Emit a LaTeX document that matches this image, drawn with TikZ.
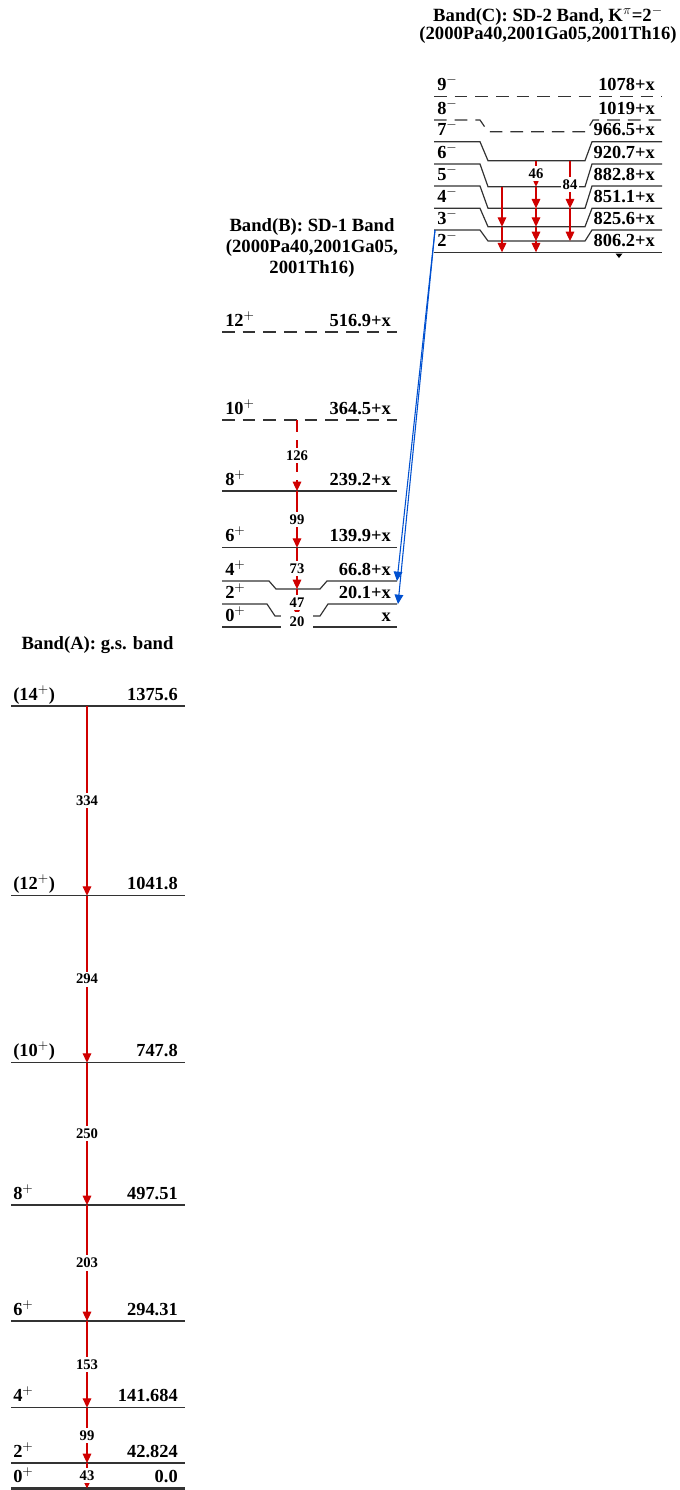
\documentclass[tikz,border=0pt]{standalone}
\usepackage{fontspec}
\setmainfont{Liberation Serif}
\usetikzlibrary{arrows.meta, positioning, calc}
\definecolor{gred}{HTML}{D00000}
\definecolor{gblue}{HTML}{0050D0}
\definecolor{lvlgray}{HTML}{333333}

\begin{document}
\begin{tikzpicture}[x=0.75pt, y=-0.75pt,
    lvl/.style={draw=lvlgray, line width=0.9pt},
    tent/.style={lvl, dash pattern=on 9.5pt off 6pt},
    spin/.style={anchor=base west, inner sep=0pt, font=\fontsize{13.8}{15}\selectfont\bfseries},
    en/.style={anchor=base east, inner sep=0pt, font=\fontsize{13.8}{15}\selectfont\bfseries},
    ttl/.style={align=center, inner sep=0pt, font=\fontsize{14}{14}\selectfont\bfseries},
    gam/.style={draw=gred, line width=0.8pt, -{Triangle[length=7pt, width=6.5pt]}},
    gbl/.style={draw=gblue, line width=0.8pt, -{Triangle[length=7pt, width=6.5pt]}},
    glab/.style={fill=white, inner xsep=1.5pt, inner ysep=2pt, font=\fontsize{11}{12}\selectfont\bfseries}]

\useasboundingbox (0,0) rectangle (679,1490);

% titles
\node[ttl] (tA) at (97.5,645) {Band(A): g.s. band};
\node[ttl, font=\fontsize{14}{16}\selectfont\bfseries] (tB) at (312,248) {Band(B): SD-1 Band\\(2000Pa40,2001Ga05,\\2001Th16)};
\node[ttl] (tC) at (548,25) {Band(C): SD-2 Band, K$^{\pi}$=2$^{-}$\\(2000Pa40,2001Ga05,2001Th16)};

% band A
\foreach \y/\s/\e/\n in {706/{(14$^{+}$)}/1375.6/A14, 895.7/{(12$^{+}$)}/1041.8/A12,
    1062.7/{(10$^{+}$)}/747.8/A10, 1205/{8$^{+}$}/497.51/A8, 1321/{6$^{+}$}/294.31/A6,
    1407.7/{4$^{+}$}/141.684/A4, 1463/{2$^{+}$}/42.824/A2}{
  \draw[lvl] (11,\y) -- (185,\y);
  \node[spin] (\n s) at (13,\y-6) {\s};
  \node[en] (\n e) at (178,\y-6) {\e};
  \coordinate (\n) at (87,\y);
}
\draw[lvl, line width=1.8pt] (11,1488.5) -- (185,1488.5);
\node[spin] (A0s) at (13,1482.5) {0$^{+}$};
\node[en] (A0e) at (178,1482.5) {0.0};
\coordinate (A0) at (87,1488.5);

\foreach \a/\b/\g in {A14/A12/334, A12/A10/294, A10/A8/250, A8/A6/203, A6/A4/153, A4/A2/99, A2/A0/43}
  \draw[gam] (\a) -- (\b) node[glab, midway] (gA\g) {\g};

% band B
\draw[tent] (222,332) -- (397,332);
\node[spin] (B12s) at (225,326) {12$^{+}$};
\node[en] (B12e) at (391,326) {516.9+x};
\draw[tent] (222,420) -- (397,420);
\node[spin] (B10s) at (225,414) {10$^{+}$};
\node[en] (B10e) at (391,414) {364.5+x};
\draw[lvl] (222,491) -- (397,491);
\node[spin] (B8s) at (225,485) {8$^{+}$};
\node[en] (B8e) at (391,485) {239.2+x};
\draw[lvl] (222,547.7) -- (397,547.7);
\node[spin] (B6s) at (225,541.7) {6$^{+}$};
\node[en] (B6e) at (391,541.7) {139.9+x};
\draw[lvl] (222,581) -- (269,581) -- (276,589) -- (320,589) -- (327,581) -- (397,581);
\node[spin] (B4s) at (225,575) {4$^{+}$};
\node[en] (B4e) at (391,575) {66.8+x};
\draw[lvl] (222,604) -- (267,604) -- (275,616) -- (320,616) -- (328,604) -- (397,604);
\node[spin] (B2s) at (225,598) {2$^{+}$};
\node[en] (B2e) at (391,598) {20.1+x};
\draw[lvl] (222,627) -- (397,627);
\node[spin] (B0s) at (225,621) {0$^{+}$};
\node[en] (B0e) at (391,621) {x};

\coordinate (B10) at (297,420);
\coordinate (B8) at (297,491);
\coordinate (B6) at (297,547.7);
\coordinate (B4) at (297,589);
\coordinate (B2) at (297,616);
\coordinate (B0) at (297,627);
\draw[gam, dash pattern=on 9pt off 6pt] (B10) -- (B8) node[glab, midway] (gB126) {126};
\draw[gam] (B8) -- (B6) node[glab, midway] (gB99) {99};
\draw[gam] (B6) -- (B4) node[glab, midway] (gB73) {73};
\draw[gam] (B4) -- (B2) node[glab, midway] (gB47) {47};
\draw[gam] (B2) -- (B0) node[glab, midway, minimum width=24pt, minimum height=14pt] (gB20) {20};

% band C
\draw[tent] (434,96.7) -- (662,96.7);
\draw[tent] (434,120) -- (480,120) -- (488,131.7) -- (586,131.7) -- (593,120) -- (662,120);
\foreach \o/\i in {141.7/160.7, 164/186.7, 186/208.3, 208.3/226.7, 230/241}
  \draw[lvl] (434,\o) -- (480,\o) -- (488,\i) -- (585,\i) -- (592,\o) -- (662,\o);
\draw[lvl] (434,252.3) -- (662,252.3);
\foreach \y/\s/\e/\n in {96.7/9/1078/C9, 120/8/1019/C8, 141.7/7/966.5/C7, 164/6/920.7/C6,
    186/5/882.8/C5, 208.3/4/851.1/C4, 230/3/825.6/C3, 252.3/2/806.2/C2}{
  \node[spin] (\n s) at (437,\y-6) {\s$^{-}$};
  \node[en] (\n e) at (655,\y-6) {\e+x};
}
\fill[black] (615.5,253.5) -- (622.5,253.5) -- (619,258) -- cycle;

\foreach \x/\c in {502/a, 536/b, 570/c}
  \foreach \y/\n in {160.7/7, 186.7/6, 208.3/5, 226.7/4, 241/3, 252.3/2}
    \coordinate (C\n\c) at (\x,\y);
\draw[gam] (C6a) -- (C4a);
\draw[gam] (C4a) -- (C2a);
\draw[gam] (C7b) -- (C6b) node[glab, midway] (gC46) {46};
\draw[gam] (C6b) -- (C5b);
\draw[gam] (C5b) -- (C4b);
\draw[gam] (C4b) -- (C3b);
\draw[gam] (C3b) -- (C2b);
\draw[gam] (C7c) -- (C5c) node[glab, midway] (gC84) {84};
\draw[gam] (C5c) -- (C3c);

% inter-band
\coordinate (C3L) at (435,230);
\coordinate (B4R) at (397,581);
\coordinate (B2R) at (398,604);
\draw[gbl] (C3L) -- (B4R);
\draw[gbl] (C3L) -- (B2R);
\end{tikzpicture}
\end{document}
